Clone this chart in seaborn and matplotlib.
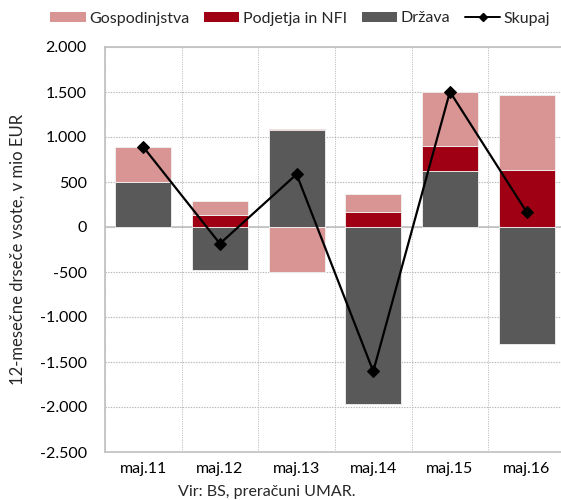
import matplotlib
matplotlib.use("Agg")
import matplotlib.pyplot as plt
from matplotlib.ticker import FuncFormatter, MultipleLocator
from matplotlib.lines import Line2D
from matplotlib.patches import Patch
import numpy as np
import pandas as pd
import seaborn as sns

# Data (12-month rolling sums, EUR million)
categories = ["maj.11", "maj.12", "maj.13", "maj.14", "maj.15", "maj.16"]
gospodinjstva = [395, 160, -504, 193, 603, 834]
podjetja = [0, 133, 12, 170, 278, 633]
drzava = [495, -478, 1078, -1967, 622, -1300]
skupaj = [890, -185, 586, -1604, 1503, 167]

col_gosp = "#D99594"
col_podj = "#A00014"
col_drz = "#595959"

sns.set_theme(style="white")
plt.rcParams["font.family"] = ["Lato", "DejaVu Sans"]

fig = plt.figure(figsize=(5.61, 5.0), dpi=100)
ax = fig.add_axes([0.187, 0.096, 0.82, 0.81])

g = np.array(gospodinjstva, float)
p = np.array(podjetja, float)
d = np.array(drzava, float)

# stack positives above zero and negatives below zero separately
pos_base = np.zeros(6)
neg_base = np.zeros(6)
layers = []
for vals, col in [(d, col_drz), (p, col_podj), (g, col_gosp)]:
    base = np.where(vals >= 0, pos_base, neg_base)
    layers.append((vals, base, col))
    pos_base = pos_base + np.clip(vals, 0, None)
    neg_base = neg_base + np.clip(vals, None, 0)

for vals, base, col in layers:
    df = pd.DataFrame({"kat": categories, "val": vals})
    sns.barplot(data=df, x="kat", y="val", bottom=base, color=col,
                saturation=1, width=0.73, edgecolor="#f2f2f2", linewidth=0.6,
                ax=ax, zorder=2)

sns.lineplot(x=np.arange(6), y=skupaj, color="black", linewidth=1.6,
             marker="D", markersize=6, markeredgecolor="black", ax=ax, zorder=4)

ax.set_xlim(-0.5, 5.5)
ax.set_ylim(-2500, 2000)
ax.yaxis.set_major_locator(MultipleLocator(500))
ax.yaxis.set_major_formatter(FuncFormatter(lambda v, _: f"{int(v):,}".replace(",", ".")))
ax.set_xticks(range(6))
ax.set_xticklabels(categories)
ax.set_xticks(np.arange(-0.5, 6, 1), minor=True)

ax.grid(True, axis="y", which="major", linestyle=(0, (1.2, 1.2)), color="#b5b5b5", linewidth=0.8, zorder=0)
ax.grid(True, axis="x", which="minor", linestyle=(0, (1.2, 1.2)), color="#c0c0c0", linewidth=0.7, zorder=0)
ax.grid(False, axis="x", which="major")
ax.set_axisbelow(True)
ax.axhline(0, color="#bfbfbf", linewidth=1.2, zorder=1)

for side in ["left", "bottom", "top", "right"]:
    ax.spines[side].set_color("#bfbfbf")
    ax.spines[side].set_linewidth(1.2)

ax.tick_params(axis="both", which="both", length=0, labelsize=11.5, colors="black")
ax.tick_params(axis="x", pad=7)
ax.tick_params(axis="y", pad=13)
ax.set_xlabel("")
ax.set_ylabel("12-mesečne drseče vsote, v mio EUR", fontsize=12, labelpad=10)

handles = [
    Patch(facecolor=col_gosp, edgecolor="none"),
    Patch(facecolor=col_podj, edgecolor="none"),
    Patch(facecolor=col_drz, edgecolor="none"),
    Line2D([0], [0], color="black", linewidth=1.4, marker="D", markersize=4.5),
]
labels = ["Gospodinjstva", "Podjetja in NFI", "Država", "Skupaj"]
fig.legend(handles, labels, loc="center", bbox_to_anchor=(0.535, 0.963), ncol=4,
           frameon=False, fontsize=11.5, handlelength=2.2, handleheight=0.6,
           handletextpad=0.2, columnspacing=0.95, borderpad=0.2)

fig.text(0.475, 0.016, "Vir: BS, preračuni UMAR.", ha="center", va="center", fontsize=11.5)

fig.savefig("out.png", dpi=100)
